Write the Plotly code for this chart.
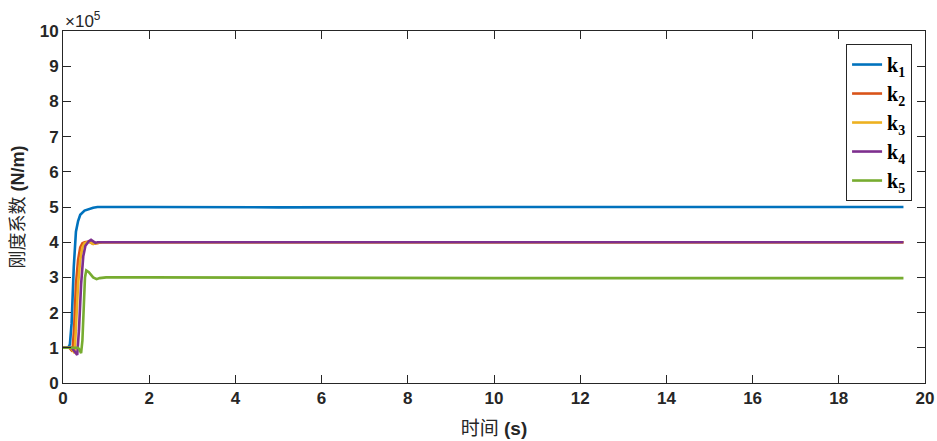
import plotly.graph_objects as go

# time (s) and stiffness values (x 1e5 N/m)
t1 = [0, 0.12, 0.16, 0.2, 0.25, 0.3, 0.35, 0.4, 0.5, 0.6, 0.7, 0.8, 0.9, 1.0, 2.0, 5.0, 10.0, 15.0, 19.5]
k1 = [1.0, 1.0, 1.1, 1.7, 3.3, 4.3, 4.6, 4.78, 4.9, 4.95, 4.98, 5.0, 5.01, 5.0, 5.0, 4.99, 5.0, 5.0, 5.0]

t2 = [0, 0.15, 0.22, 0.26, 0.3, 0.35, 0.4, 0.45, 0.5, 0.6, 0.7, 0.8, 0.9, 1.0, 5.0, 10.0, 19.5]
k2 = [1.0, 1.0, 0.9, 1.6, 2.8, 3.5, 3.85, 3.97, 4.0, 4.02, 3.95, 3.98, 4.0, 4.0, 4.0, 4.0, 4.0]

t3 = [0, 0.18, 0.27, 0.3, 0.35, 0.4, 0.45, 0.5, 0.6, 0.7, 0.8, 0.9, 1.0, 5.0, 10.0, 19.5]
k3 = [1.0, 1.0, 0.85, 1.5, 2.8, 3.5, 3.85, 3.97, 4.02, 3.95, 3.98, 4.0, 4.0, 4.0, 4.0, 4.0]

t4 = [0, 0.2, 0.33, 0.37, 0.42, 0.47, 0.52, 0.6, 0.65, 0.7, 0.75, 0.8, 0.9, 1.0, 5.0, 10.0, 19.5]
k4 = [1.0, 1.0, 0.8, 1.5, 2.8, 3.6, 3.9, 4.03, 4.07, 4.02, 3.98, 4.0, 4.01, 4.0, 4.0, 4.0, 4.0]

t5 = [0, 0.35, 0.38, 0.42, 0.45, 0.48, 0.51, 0.54, 0.6, 0.7, 0.78, 0.85, 1.0, 2.0, 5.0, 10.0, 15.0, 19.5]
k5 = [1.0, 1.0, 0.95, 0.85, 1.2, 2.2, 3.0, 3.2, 3.15, 3.0, 2.95, 2.98, 3.0, 3.0, 2.99, 2.98, 2.98, 2.98]

names = ["<b>k<sub>1</sub></b>", "<b>k<sub>2</sub></b>", "<b>k<sub>3</sub></b>",
         "<b>k<sub>4</sub></b>", "<b>k<sub>5</sub></b>"]
colors = ["#0072BD", "#D95319", "#EDB120", "#7E2F8E", "#77AC30"]

xticks = list(range(0, 21, 2))
yticks = list(range(0, 11))

fig = go.Figure()
for t, k, n, c in zip([t1, t2, t3, t4, t5], [k1, k2, k3, k4, k5], names, colors):
    fig.add_trace(go.Scatter(x=t, y=k, mode="lines", name=n,
                             line=dict(color=c, width=2.6)))

axis_common = dict(showline=True, linecolor="#262626", linewidth=1, mirror="ticks",
                   ticks="inside", ticklen=8, tickcolor="#262626", showgrid=False,
                   zeroline=False, automargin=False,
                   tickfont=dict(family="Liberation Sans, Arial", size=17, color="#262626"))

fig.update_layout(
    width=937, height=441,
    margin=dict(l=63, r=12, t=31, b=58),
    plot_bgcolor="white", paper_bgcolor="white",
    xaxis=dict(range=[0, 20], tickvals=xticks, ticktext=[f"<b>{v}</b>" for v in xticks],
               title=dict(text="时间 <b>(s)</b>", standoff=14,
                          font=dict(family="Liberation Sans, Noto Sans CJK SC", size=19, color="#262626")),
               **axis_common),
    yaxis=dict(range=[0, 10], tickvals=yticks, ticktext=[f"<b>{v}</b>" for v in yticks],
               title=dict(text="刚度系数 <b>(N/m)</b>", standoff=10,
                          font=dict(family="Liberation Sans, Noto Sans CJK SC", size=18, color="#262626")),
               **axis_common),
    legend=dict(x=0.985, y=0.963, xanchor="right", yanchor="top",
                bgcolor="white", bordercolor="#262626", borderwidth=1,
                font=dict(family="Liberation Serif, Times New Roman", size=20, color="#000000"),
                itemwidth=30),
    showlegend=True,
    annotations=[dict(text="×10<sup>5</sup>", xref="paper", yref="paper", x=0, y=1,
                      xanchor="left", yanchor="bottom", showarrow=False, yshift=-2,
                      font=dict(family="Liberation Sans, Arial", size=17, color="#262626"))],
)

fig.write_html("out.html")
